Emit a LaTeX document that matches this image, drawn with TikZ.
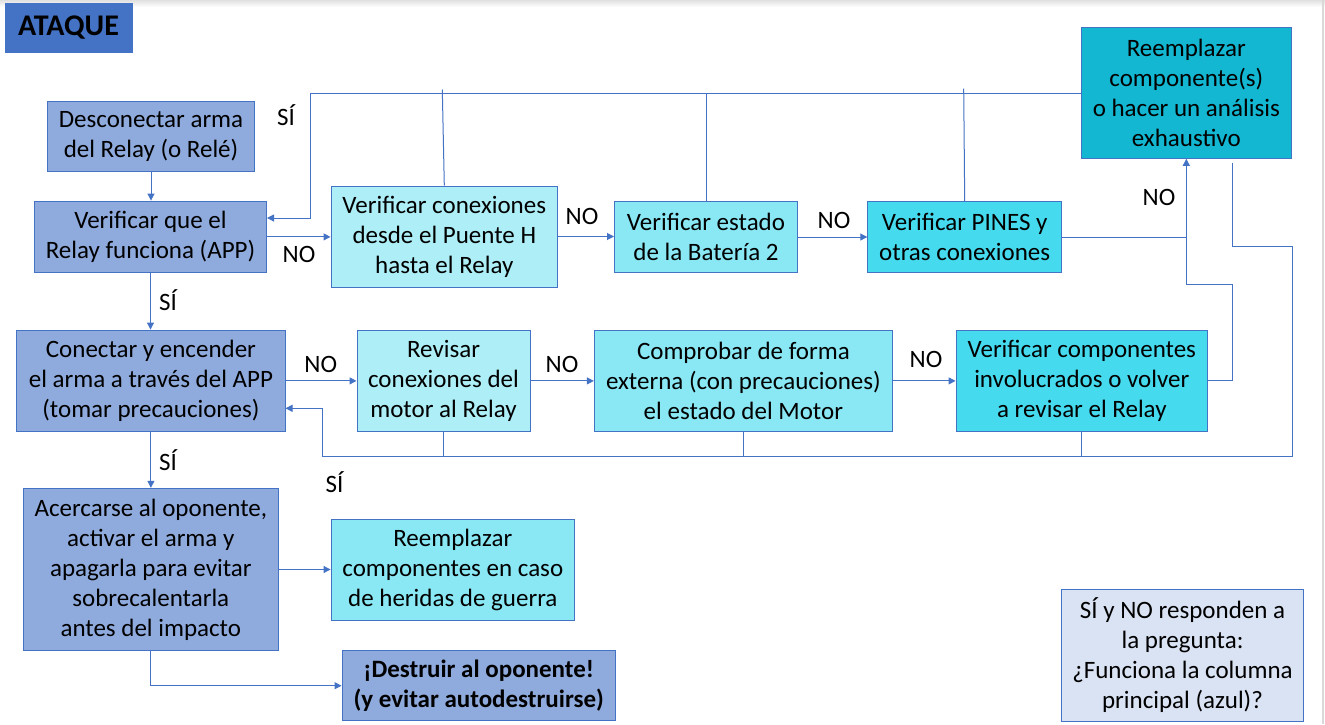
\documentclass[tikz,border=0pt]{standalone}
\usepackage{fontspec}
\setmainfont{Carlito}
\usetikzlibrary{arrows.meta}
\definecolor{lineblue}{HTML}{4472C4}
\definecolor{mainblue}{HTML}{8FAADC}
\definecolor{cyanA}{HTML}{AEEEF7}
\definecolor{cyanB}{HTML}{8AE8F5}
\definecolor{cyanC}{HTML}{46DAEE}
\definecolor{cyanD}{HTML}{13B7D1}
\definecolor{notefill}{HTML}{DAE3F3}
\begin{document}
\begin{tikzpicture}[x=1pt,y=-1pt,
  box/.style={draw=lineblue, line width=1pt, align=center, inner sep=0pt, text=black,
    font=\fontsize{25}{30}\selectfont},
  conn/.style={draw=lineblue, line width=1pt},
  arr/.style={conn, -{Triangle[length=7pt,width=7pt]}},
  lbl/.style={font=\fontsize{25}{30}\selectfont, inner sep=0pt, text=black}]
\useasboundingbox (0,0) rectangle (1325,724);
\fill[white] (0,0) rectangle (1325,724);
\shade[top color=black!12, bottom color=white] (0,0) rectangle (1325,7);
\draw[black!15, line width=2pt] (1323,0) -- (1323,724);

% title
\node[draw=lineblue, fill=lineblue, minimum width=127pt, minimum height=49pt, inner sep=0pt,
  font=\fontsize{30}{32}\selectfont\bfseries] (ataque) at (68.5,27.5) {ATAQUE};

% main column
\node[box, fill=mainblue, minimum width=207pt, minimum height=70.7pt] (desc) at (151,136.4)
  {Desconectar arma\\del Relay (o Relé)};
\node[box, fill=mainblue, minimum width=232pt, minimum height=71.7pt] (vqr) at (150.5,236.9)
  {Verificar que el\\Relay funciona (APP)};
\node[box, fill=mainblue, minimum width=268.2pt, minimum height=101.7pt] (con) at (150.9,380.9)
  {Conectar y encender\\el arma a través del APP\\(tomar precauciones)};
\node[box, fill=mainblue, minimum width=255.6pt, minimum height=162.4pt] (acer) at (150.8,569.5)
  {Acercarse al oponente,\\activar el arma y\\apagarla para evitar\\sobrecalentarla\\antes del impacto};
\node[box, fill=mainblue, minimum width=273.3pt, minimum height=70pt, font=\fontsize{25}{30}\selectfont\bfseries] (dest) at (478.7,685.7)
  {¡Destruir al oponente!\\(y evitar autodestruirse)};

% first row
\node[box, fill=cyanA, minimum width=226.6pt, minimum height=101pt] (vcon) at (444.3,236.5)
  {Verificar conexiones\\desde el Puente H\\hasta el Relay};
\node[box, fill=cyanB, minimum width=183pt, minimum height=70.6pt] (bat) at (706,237)
  {Verificar estado\\de la Batería 2};
\node[box, fill=cyanC, minimum width=193.8pt, minimum height=70.6pt] (pines) at (964.7,237)
  {Verificar PINES y\\otras conexiones};
\node[box, fill=cyanD, minimum width=210.5pt, minimum height=131pt] (reem) at (1186.3,92.8)
  {Reemplazar\\componente(s)\\o hacer un análisis\\exhaustivo};

% second row
\node[box, fill=cyanA, minimum width=173pt, minimum height=101.7pt] (rev) at (443.5,380.9)
  {Revisar\\conexiones del\\motor al Relay};
\node[box, fill=cyanB, minimum width=298.1pt, minimum height=101.7pt] (comp) at (743.4,380.9)
  {Comprobar de forma\\externa (con precauciones)\\el estado del Motor};
\node[box, fill=cyanC, minimum width=251.5pt, minimum height=101.7pt] (vcomp) at (1081.8,380.9)
  {Verificar componentes\\involucrados o volver\\a revisar el Relay};

% other
\node[box, fill=cyanB, minimum width=243.5pt, minimum height=101pt] (reemc) at (452.8,569.8)
  {Reemplazar\\componentes en caso\\de heridas de guerra};
\node[box, fill=notefill, minimum width=241.6pt, minimum height=132.4pt] (note) at (1182.5,655.5)
  {SÍ y NO responden a\\la pregunta:\\¿Funciona la columna\\principal (azul)?};

% coordinates
\coordinate (t1) at (310,93);
\coordinate (t2) at (310,218);
\coordinate (jA) at (1232.3,284);
\coordinate (r1) at (1232.3,162.7);
\coordinate (r2) at (1292.3,246);
\coordinate (b1) at (1292.3,456);
\coordinate (b2) at (322,456);
\coordinate (b3) at (322,408.3);

% connectors main column
\draw[arr] (desc.south) -- (desc.south |- vqr.north);
\draw[arr] (vqr.south) -- (vqr.south |- con.north);
\draw[arr] (con.south) -- (con.south |- acer.north);
\draw[arr] (acer.east) -- (acer.east -| reemc.west);
\draw[arr] (acer.south) |- (dest.west);

% first row
\draw[arr] (vqr.east) -- (vqr.east -| vcon.west);
\draw[arr] (vcon.east) -- (vcon.east -| bat.west);
\draw[arr] (bat.east) -- (bat.east -| pines.west);
\draw[conn] (pines.east) -- (pines.east -| reem.south);
\draw[arr] (vcomp.east) -| (jA) -- (jA -| reem.south) -- (reem.south);
\draw[arr] (reem.west |- t1) -- (t1) -- (t2) -- (t2 -| vqr.east);
\draw[conn] (vcon.north) -- ++(-2,-96);
\draw[conn] (bat.north) -- (bat.north |- t1);
\draw[conn] (pines.north) -- ++(-1,-112.7);

% second row
\draw[arr] (con.east) -- (con.east -| rev.west);
\draw[arr] (rev.east) -- (rev.east -| comp.west);
\draw[arr] (comp.east) -- (comp.east -| vcomp.west);
\draw[arr] (r1) -- (r1 |- r2) -- (r2) -- (b1) -- (b2) -- (b3) -- (b3 -| con.east);
\draw[conn] (rev.south) -- (rev.south |- b1);
\draw[conn] (comp.south) -- (comp.south |- b1);
\draw[conn] (vcomp.south) -- (vcomp.south |- b1);

% labels
\node[lbl] (l1) at (286,115) {SÍ};
\node[lbl] (l2) at (299,254) {NO};
\node[lbl] (l3) at (582,216) {NO};
\node[lbl] (l4) at (834,220) {NO};
\node[lbl] (l5) at (1159,197) {NO};
\node[lbl] (l6) at (168,300) {SÍ};
\node[lbl] (l7) at (320.7,364) {NO};
\node[lbl] (l8) at (562,364) {NO};
\node[lbl] (l9) at (926,359) {NO};
\node[lbl] (l10) at (168,460) {SÍ};
\node[lbl] (l11) at (334.6,481.7) {SÍ};
\end{tikzpicture}
\end{document}
